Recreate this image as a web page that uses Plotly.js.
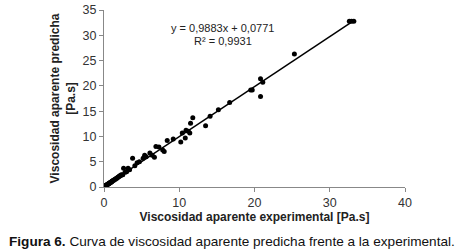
<!DOCTYPE html>
<html><head><meta charset="utf-8">
<script src="https://cdn.plot.ly/plotly-3.0.1.min.js"></script>
<style>html,body{margin:0;padding:0;background:#fff;}#chart{width:463px;height:252px;}</style>
</head><body><div id="chart"></div>
<script>
const expX = [0.05,0.1,0.15,0.2,0.25,0.3,0.35,0.4,0.45,0.5,0.55,0.6,0.65,0.7,0.75,0.8,0.85,0.9,0.95,1.0,1.05,1.1,1.2,1.3,1.4,1.5,1.6,1.7,1.8,1.9,2.0,2.1,2.2,2.3,2.5,2.6,2.8,3.0,3.2,3.4,3.8,4.1,4.4,4.7,5.2,5.4,5.6,6.1,6.4,6.7,6.9,7.3,7.8,8.0,8.4,9.2,10.2,10.4,10.8,10.9,11.2,11.4,11.5,11.8,13.5,14.1,15.2,16.7,19.5,19.7,20.8,20.8,21.1,25.3,32.6,32.9,33.2];
const predY = [0.1,0.15,0.2,0.25,0.3,0.35,0.4,0.45,0.5,0.55,0.6,0.65,0.7,0.75,0.8,0.85,0.9,0.95,1.0,1.05,1.1,1.2,1.3,1.35,1.5,1.55,1.7,1.75,1.9,2.0,2.1,2.2,2.2,2.4,2.4,3.7,2.9,3.0,3.7,3.4,5.7,4.2,4.8,5.0,5.7,6.3,6.0,6.7,6.3,5.9,8.0,7.9,7.3,7.0,9.2,9.5,8.9,10.7,9.7,11.2,11.0,10.7,12.6,13.7,12.1,14.0,15.3,16.7,19.2,19.2,21.4,17.9,20.7,26.3,32.8,32.8,32.8];
const slope = 0.9883, intercept = 0.0771;
const eqText = "y = 0,9883x + 0,0771";
const r2Text = "R² = 0,9931";
const xTicks = [0,10,20,30,40];
const yTicks = [0,5,10,15,20,25,30,35];

const xmax = Math.max(...expX);
const trend = {x:[0, xmax], y:[intercept, slope*xmax+intercept], mode:'lines', type:'scatter',
  line:{color:'#000', width:1.5}, hoverinfo:'skip'};
const pts = {x:expX, y:predY, mode:'markers', type:'scatter',
  marker:{color:'#000', size:5}};

const font = {family:'"Liberation Sans", Arial, sans-serif', color:'#222'};
const layout = {
  width:463, height:252,
  margin:{l:104, r:58, t:10, b:65},
  paper_bgcolor:'#fff', plot_bgcolor:'#fff',
  showlegend:false,
  font:Object.assign({size:11}, font),
  xaxis:{range:[0,40], tickvals:xTicks, ticks:'outside', ticklen:4, tickcolor:'#888',
    showline:true, linecolor:'#888', linewidth:1, showgrid:false, zeroline:false,
    tickfont:{size:12.5, color:'#333'},
    title:{text:'<b>Viscosidad aparente experimental [Pa.s]</b>', font:{size:12, color:'#222'}, standoff:2}},
  yaxis:{range:[0,35], tickvals:yTicks, ticks:'outside', ticklen:4, tickcolor:'#888',
    showline:true, linecolor:'#888', linewidth:1, showgrid:false, zeroline:false,
    tickfont:{size:12.5, color:'#333'},
    title:{text:'<b>Viscosidad aparente predicha<br>[Pa.s]</b>', font:{size:12, color:'#222'}, standoff:4}},
  annotations:[
    {x:15.8, y:31.5, xref:'x', yref:'y', text:eqText, showarrow:false, font:{size:11, color:'#222'}, xanchor:'center', yanchor:'middle'},
    {x:15.8, y:28.8, xref:'x', yref:'y', text:r2Text, showarrow:false, font:{size:11, color:'#222'}, xanchor:'center', yanchor:'middle'},
    {x:-0.321, y:-0.31, xref:'paper', yref:'paper', text:'<b>Figura 6.</b> Curva de viscosidad aparente predicha frente a la experimental.', showarrow:false, font:{size:13.6, color:'#111'}, xanchor:'left', yanchor:'middle'}
  ]
};
Plotly.newPlot('chart', [trend, pts], layout, {displayModeBar:false, staticPlot:true});
</script></body></html>
